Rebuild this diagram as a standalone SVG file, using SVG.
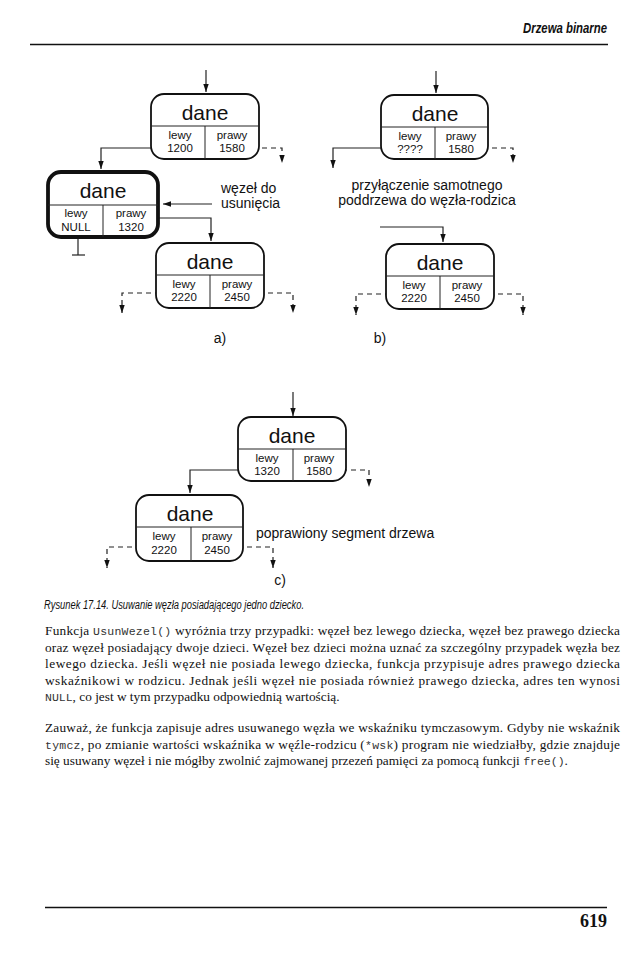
<svg xmlns="http://www.w3.org/2000/svg" width="639" height="978" viewBox="0 0 639 978">
<style>
.node{fill:#fff;stroke:#111;stroke-width:1.8}
.thick{fill:#fff;stroke:#111;stroke-width:3.8}
.div{stroke:#222;stroke-width:1}
.title{font-family:"Liberation Sans",Arial,sans-serif;font-size:21px;text-anchor:middle;fill:#111}
.lbl{font-family:"Liberation Sans",Arial,sans-serif;font-size:11.5px;text-anchor:middle;fill:#111}
.note{font-family:"Liberation Sans",Arial,sans-serif;font-size:14px;fill:#111}
.c{fill:none;stroke:#222;stroke-width:1.2}
.d{fill:none;stroke:#222;stroke-width:1.2;stroke-dasharray:5 4}
.body{font-family:"Liberation Serif","Times New Roman",serif;font-size:13.3px;fill:#111}
.mono{font-family:"Liberation Mono","Courier New",monospace;font-size:11.5px;fill:#333}
</style>
<defs>
<marker id="ah" markerUnits="userSpaceOnUse" markerWidth="9" markerHeight="7" refX="8" refY="3.5" orient="auto">
<path d="M0,0.8 L8,3.5 L0,6.2 z" fill="#111"/>
</marker>
</defs>

<!-- header -->
<text x="523" y="33" font-family="Liberation Sans, Arial, sans-serif" font-size="14" font-weight="bold" font-style="italic" textLength="84" lengthAdjust="spacingAndGlyphs" fill="#111">Drzewa binarne</text>
<line x1="30" y1="44.5" x2="608" y2="44.5" stroke="#111" stroke-width="1.5"/>

<!-- connectors -->
<g id="connectors">
<!-- a) -->
<line class="c" x1="206" y1="70" x2="206" y2="92" marker-end="url(#ah)"/>
<polyline class="c" points="163,148 101,148 101,169" marker-end="url(#ah)"/>
<polyline class="d" points="253,148 282,148 282,163" marker-end="url(#ah)"/>
<line class="c" x1="212" y1="204" x2="163" y2="204" marker-end="url(#ah)"/>
<polyline class="c" points="153,218 211,218 211,241" marker-end="url(#ah)"/>
<line class="c" x1="78" y1="237" x2="78" y2="255"/>
<line class="c" x1="72" y1="255" x2="85" y2="255"/>
<polyline class="d" points="160,293 122,293 122,313" marker-end="url(#ah)"/>
<polyline class="d" points="259,293 293,293 293,313" marker-end="url(#ah)"/>
<!-- b) -->
<line class="c" x1="436" y1="71" x2="436" y2="93" marker-end="url(#ah)"/>
<polyline class="c" points="393,148 333,148 333,168" marker-end="url(#ah)"/>
<polyline class="d" points="483,148 513,148 513,163" marker-end="url(#ah)"/>
<polyline class="c" points="380,227 443,227 443,242" marker-end="url(#ah)"/>
<polyline class="d" points="390,294 356,294 356,315" marker-end="url(#ah)"/>
<polyline class="d" points="489,294 523,294 523,315" marker-end="url(#ah)"/>
<!-- c) -->
<line class="c" x1="293" y1="392" x2="293" y2="416" marker-end="url(#ah)"/>
<polyline class="c" points="240,470 190,470 190,493" marker-end="url(#ah)"/>
<polyline class="d" points="342,470 369,470 369,487" marker-end="url(#ah)"/>
<polyline class="d" points="141,547 107,547 107,568" marker-end="url(#ah)"/>
<polyline class="d" points="238,547 273,547 273,568" marker-end="url(#ah)"/>
</g>

<!-- nodes -->
<g id="nodeA1" transform="translate(151,94)">
<rect class="node" width="108" height="65" rx="13"/>
<line class="div" x1="0" y1="32" x2="108" y2="32"/><line class="div" x1="54" y1="32" x2="54" y2="65"/>
<text class="title" x="54" y="26">dane</text>
<text class="lbl" x="29" y="44.5">lewy</text><text class="lbl" x="29" y="58">1200</text>
<text class="lbl" x="81" y="44.5">prawy</text><text class="lbl" x="81" y="58">1580</text>
</g>
<g id="nodeA2" transform="translate(48,172)">
<rect class="thick" width="110" height="65" rx="13"/>
<line class="div" x1="0" y1="33" x2="110" y2="33"/><line class="div" x1="55" y1="33" x2="55" y2="65"/>
<text class="title" x="55" y="26">dane</text>
<text class="lbl" x="28" y="45">lewy</text><text class="lbl" x="28" y="58.5">NULL</text>
<text class="lbl" x="83" y="45">prawy</text><text class="lbl" x="83" y="58.5">1320</text>
</g>
<g id="nodeA3" transform="translate(156,243)">
<rect class="node" width="108" height="65" rx="13"/>
<line class="div" x1="0" y1="32" x2="108" y2="32"/><line class="div" x1="54" y1="32" x2="54" y2="65"/>
<text class="title" x="54" y="26">dane</text>
<text class="lbl" x="28" y="44.5">lewy</text><text class="lbl" x="28" y="58">2220</text>
<text class="lbl" x="81" y="44.5">prawy</text><text class="lbl" x="81" y="58">2450</text>
</g>
<g id="nodeB1" transform="translate(381,95)">
<rect class="node" width="107" height="64" rx="13"/>
<line class="div" x1="0" y1="32" x2="107" y2="32"/><line class="div" x1="54" y1="32" x2="54" y2="64"/>
<text class="title" x="54" y="26">dane</text>
<text class="lbl" x="29" y="44.5">lewy</text><text class="lbl" x="29" y="58">????</text>
<text class="lbl" x="80" y="44.5">prawy</text><text class="lbl" x="80" y="58">1580</text>
</g>
<g id="nodeB2" transform="translate(386,244)">
<rect class="node" width="108" height="65" rx="13"/>
<line class="div" x1="0" y1="32" x2="108" y2="32"/><line class="div" x1="54" y1="32" x2="54" y2="65"/>
<text class="title" x="54" y="26">dane</text>
<text class="lbl" x="28" y="44.5">lewy</text><text class="lbl" x="28" y="58">2220</text>
<text class="lbl" x="81" y="44.5">prawy</text><text class="lbl" x="81" y="58">2450</text>
</g>
<g id="nodeC1" transform="translate(238,417)">
<rect class="node" width="108" height="64" rx="13"/>
<line class="div" x1="0" y1="32" x2="108" y2="32"/><line class="div" x1="55" y1="32" x2="55" y2="64"/>
<text class="title" x="54" y="26">dane</text>
<text class="lbl" x="29" y="44.5">lewy</text><text class="lbl" x="29" y="58">1320</text>
<text class="lbl" x="81" y="44.5">prawy</text><text class="lbl" x="81" y="58">1580</text>
</g>
<g id="nodeC2" transform="translate(136,495)">
<rect class="node" width="107" height="66" rx="13"/>
<line class="div" x1="0" y1="32" x2="107" y2="32"/><line class="div" x1="55" y1="32" x2="55" y2="66"/>
<text class="title" x="54" y="26">dane</text>
<text class="lbl" x="28" y="45">lewy</text><text class="lbl" x="28" y="59">2220</text>
<text class="lbl" x="81" y="45">prawy</text><text class="lbl" x="81" y="59">2450</text>
</g>

<!-- notes -->
<g id="labels">
<text class="note" x="221" y="193">węzeł do</text>
<text class="note" x="221" y="208">usunięcia</text>
<text class="note" x="427" y="190" text-anchor="middle">przyłączenie samotnego</text>
<text class="note" x="427" y="205" text-anchor="middle">poddrzewa do węzła-rodzica</text>
<text class="note" x="256" y="538">poprawiony segment drzewa</text>
<text class="note" x="220" y="343" text-anchor="middle">a)</text>
<text class="note" x="380" y="343" text-anchor="middle">b)</text>
<text class="note" x="280" y="585" text-anchor="middle">c)</text>
</g>

<!-- caption and body -->
<text x="44" y="609" font-family="Liberation Sans, Arial, sans-serif" font-size="12" font-style="italic" textLength="260" lengthAdjust="spacingAndGlyphs" fill="#111">Rysunek 17.14. Usuwanie węzła posiadającego jedno dziecko.</text>

<text class="body" x="45" y="635" textLength="575" lengthAdjust="spacing">Funkcja <tspan class="mono">UsunWezel()</tspan> wyróżnia trzy przypadki: węzeł bez lewego dziecka, węzeł bez prawego dziecka</text>
<text class="body" x="45" y="652" textLength="575" lengthAdjust="spacing">oraz węzeł posiadający dwoje dzieci. Węzeł bez dzieci można uznać za szczególny przypadek węzła bez</text>
<text class="body" x="45" y="668" textLength="575" lengthAdjust="spacing">lewego dziecka. Jeśli węzeł nie posiada lewego dziecka, funkcja przypisuje adres prawego dziecka</text>
<text class="body" x="45" y="685" textLength="575" lengthAdjust="spacing">wskaźnikowi w rodzicu. Jednak jeśli węzeł nie posiada również prawego dziecka, adres ten wynosi</text>
<text class="body" x="45" y="701"><tspan class="mono">NULL</tspan>, co jest w tym przypadku odpowiednią wartością.</text>

<text class="body" x="45" y="732" textLength="575" lengthAdjust="spacing">Zauważ, że funkcja zapisuje adres usuwanego węzła we wskaźniku tymczasowym. Gdyby nie wskaźnik</text>
<text class="body" x="45" y="749" textLength="575" lengthAdjust="spacing"><tspan class="mono">tymcz</tspan>, po zmianie wartości wskaźnika w węźle-rodzicu (<tspan class="mono">*wsk</tspan>) program nie wiedziałby, gdzie znajduje</text>
<text class="body" x="45" y="765">się usuwany węzeł i nie mógłby zwolnić zajmowanej przezeń pamięci za pomocą funkcji <tspan class="mono">free()</tspan>.</text>

<!-- footer -->
<line x1="45" y1="907.5" x2="607" y2="907.5" stroke="#111" stroke-width="1.5"/>
<text x="607" y="927" font-family="Liberation Serif, Times New Roman, serif" font-size="18" font-weight="bold" text-anchor="end" fill="#111">619</text>
</svg>
